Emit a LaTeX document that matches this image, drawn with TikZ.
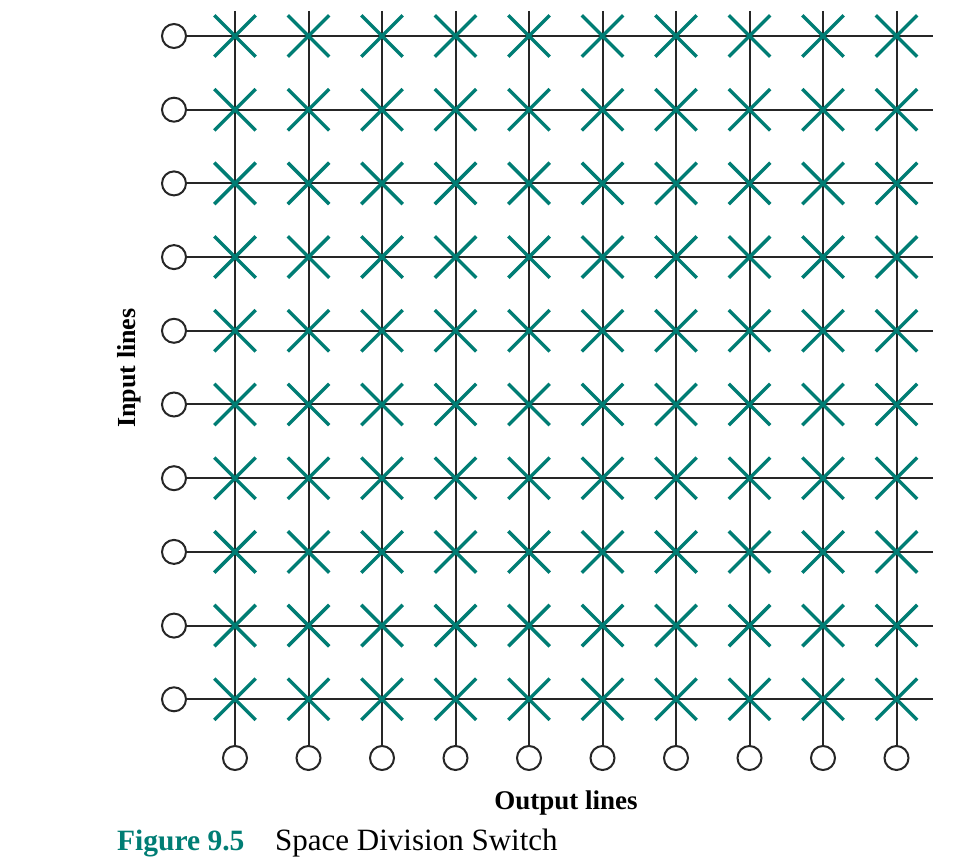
\documentclass[tikz,border=0pt]{standalone}
\usepackage{fontspec}
\setmainfont{Liberation Serif}
\usetikzlibrary{shapes.misc}
\definecolor{tealx}{RGB}{0,125,116}
\tikzset{
  port/.style={circle, draw=black!85, line width=2pt, minimum size=24pt, inner sep=0pt, fill=white},
  wire/.style={draw=black!85, line width=2pt},
  xpoint/.style={cross out, draw=tealx, line width=3.4pt, minimum size=38pt, inner sep=0pt},
}
\begin{document}
\begin{tikzpicture}[x=1pt,y=-1pt]
\useasboundingbox (0,0) rectangle (964,858);
\foreach \i in {1,...,10}{
  \pgfmathsetmacro{\yy}{36+(\i-1)*73.7}
  \pgfmathsetmacro{\xx}{235+(\i-1)*73.5}
  \node[port] (in\i) at (174,\yy) {};
  \coordinate (rend\i) at (933,\yy);
  \node[port] (out\i) at (\xx,758) {};
  \coordinate (ctop\i) at (\xx,11);
}
\foreach \i in {1,...,10}{
  \draw[wire] (in\i) -- (rend\i);
  \draw[wire] (ctop\i) -- (out\i);
}
\foreach \i in {1,...,10}{
  \foreach \j in {1,...,10}{
    \node[xpoint] (x-\i-\j) at (ctop\j |- rend\i) {};
  }
}
\node[rotate=90, anchor=base, font=\fontsize{26}{30}\selectfont\bfseries] (inlab) at (135,368) {Input lines};
\node[anchor=base, font=\fontsize{27}{31}\selectfont\bfseries] (outlab) at (566,809) {Output lines};
\node[anchor=base west, inner sep=0pt, text=tealx, font=\fontsize{29.5}{34}\selectfont\bfseries] (fignum) at (117,850) {Figure 9.5};
\node[anchor=base west, inner sep=0pt, font=\fontsize{31}{35}\selectfont] (figcap) at (275,850) {Space Division Switch};
\end{tikzpicture}
\end{document}
